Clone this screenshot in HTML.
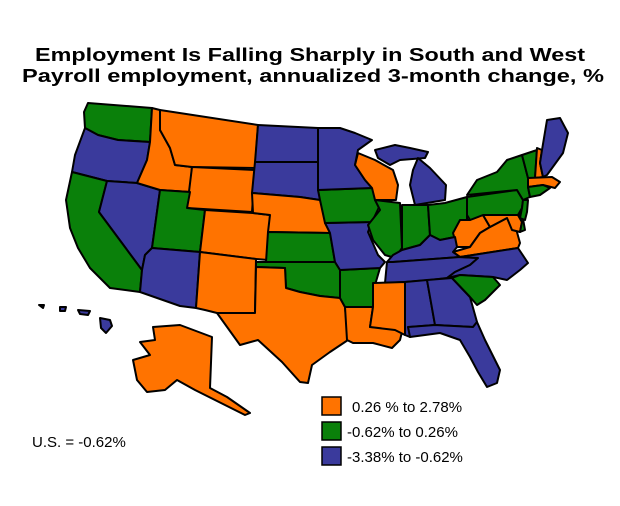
<!DOCTYPE html>
<html><head><meta charset="utf-8"><style>
body{margin:0;background:#fff;}
svg{display:block}
text{font-family:"Liberation Sans",Arial,sans-serif;}
</style></head><body>
<svg width="620" height="506" viewBox="0 0 620 506" xmlns="http://www.w3.org/2000/svg">
<rect width="620" height="506" fill="#fff"/>
<text x="35" y="61" font-size="18" font-weight="bold" textLength="550" lengthAdjust="spacingAndGlyphs">Employment Is Falling Sharply in South and West</text>
<text x="22" y="82" font-size="18" font-weight="bold" textLength="582" lengthAdjust="spacingAndGlyphs">Payroll employment, annualized 3-month change, %</text>
<g stroke="#000" stroke-width="2" stroke-linejoin="round">
<!-- West -->
<polygon fill="#0a800a" points="88,103 152,108 150,142 118,140 98,135 85,128 84,112"/>
<polygon fill="#3a3a9c" points="85,128 98,135 118,140 150,142 147,160 137,183 107,181 72,172 75,155"/>
<polygon fill="#0a800a" points="72,172 107,181 99,212 142,270 140,292 110,288 90,268 78,248 70,228 66,200"/>
<polygon fill="#3a3a9c" points="107,181 137,183 160,190 152,248 145,255 142,270 99,212"/>
<polygon fill="#ff7300" points="152,108 160,110 160,130 170,148 175,165 192,167 190,192 160,190 137,183 147,160 150,142"/>
<polygon fill="#ff7300" points="160,110 258,125 255,168 192,167 175,165 170,148 160,130"/>
<polygon fill="#ff7300" points="192,167 255,170 252,212 187,208"/>
<polygon fill="#0a800a" points="160,190 190,192 187,208 205,210 200,252 152,248"/>
<polygon fill="#ff7300" points="205,210 253,213 270,215 268,260 256,259 200,252"/>
<polygon fill="#3a3a9c" points="152,248 200,252 196,308 180,306 140,292 142,270 145,255"/>
<polygon fill="#ff7300" points="200,252 256,259 255,313 217,313 205,310 196,308"/>
<!-- Plains -->
<polygon fill="#3a3a9c" points="258,125 318,128 318,162 255,162"/>
<polygon fill="#3a3a9c" points="255,162 318,162 320,200 300,197 252,193"/>
<polygon fill="#ff7300" points="252,193 300,197 320,200 328,225 330,233 268,232 270,215 253,213"/>
<polygon fill="#0a800a" points="268,232 330,233 335,262 266,262"/>
<polygon fill="#0a800a" points="256,262 335,262 340,270 340,298 320,296 300,292 286,288 285,268 256,267"/>
<polygon fill="#ff7300" points="256,267 285,268 286,288 300,292 320,296 340,298 345,307 348,340 330,352 312,365 308,383 300,382 282,362 258,340 240,345 217,313 255,313"/>
<polygon fill="#ff7300" points="345,307 373,307 370,327 403,328 400,340 392,348 373,343 353,343 347,340"/>
<polygon fill="#0a800a" points="340,270 380,268 375,285 373,307 345,307 340,298"/>
<polygon fill="#3a3a9c" points="325,223 372,222 368,232 378,255 385,262 380,268 340,270 335,262 330,233"/>
<polygon fill="#0a800a" points="318,190 372,188 380,205 372,222 325,223 320,200"/>
<polygon fill="#3a3a9c" points="318,128 340,128 355,133 372,140 358,150 355,165 365,180 372,188 318,190"/>
<polygon fill="#ff7300" points="358,153 375,160 393,170 398,185 396,200 375,200 372,188 365,180 355,165"/>
<polygon fill="#3a3a9c" points="375,150 395,145 410,148 428,152 425,158 400,160 390,165 378,158"/>
<polygon fill="#3a3a9c" points="418,158 430,168 446,185 445,200 415,205 410,185 413,170"/>
<!-- Midwest / South -->
<polygon fill="#0a800a" points="375,200 400,203 402,248 395,258 385,255 373,240 368,225 380,210"/>
<polygon fill="#0a800a" points="402,205 428,205 430,235 420,245 402,250"/>
<polygon fill="#0a800a" points="428,205 445,203 467,197 467,220 462,235 455,237 440,240 430,235"/>
<polygon fill="#ff7300" points="457,247 453,233 460,220 470,220 483,215 490,227 480,233 470,247"/>
<polygon fill="#ff7300" points="453,252 470,247 480,233 490,227 507,218 515,225 520,243 518,248 460,257"/>
<polygon fill="#3a3a9c" points="387,262 393,255 402,250 420,245 430,235 440,240 455,237 457,247 453,252 460,257 393,262"/>
<polygon fill="#3a3a9c" points="385,283 387,262 393,262 460,257 478,258 470,265 455,272 447,278 430,280 405,282"/>
<polygon fill="#3a3a9c" points="460,257 518,248 528,263 520,270 507,280 493,277 460,275 447,278 455,272 470,265 478,258"/>
<polygon fill="#ff7300" points="373,283 405,282 405,335 395,330 370,327 373,307"/>
<polygon fill="#3a3a9c" points="405,282 427,280 435,325 410,327 410,337 405,335"/>
<polygon fill="#3a3a9c" points="427,280 452,278 470,297 477,322 473,327 435,325"/>
<polygon fill="#0a800a" points="452,278 460,275 493,277 500,285 485,300 477,305 470,297"/>
<polygon fill="#3a3a9c" points="408,327 435,325 473,327 477,322 485,340 500,370 497,383 487,387 478,372 470,357 460,340 440,333 410,337"/>
<!-- Mid-Atlantic / NE -->
<polygon fill="#ff7300" points="483,215 518,215 522,222 520,232 512,230 507,218 490,227"/>
<polygon fill="#0a800a" points="518,215 522,213 525,230 520,232 522,222"/>
<polygon fill="#0a800a" points="467,197 517,190 523,200 522,208 518,215 483,215 470,220 467,215"/>
<polygon fill="#0a800a" points="523,200 528,200 527,212 525,220 520,218 522,208"/>
<polygon fill="#0a800a" points="467,195 477,180 497,172 507,160 522,155 528,178 528,187 530,197 523,200 517,190"/>
<polygon fill="#0a800a" points="522,155 537,150 535,178 528,178"/>
<polygon fill="#ff7300" points="537,148 542,150 540,163 543,177 535,178"/>
<polygon fill="#3a3a9c" points="542,150 547,120 560,118 568,133 563,153 547,175 543,177 540,163"/>
<polygon fill="#ff7300" points="528,178 552,177 560,182 555,188 543,185 528,187"/>
<polygon fill="#0a800a" points="528,187 543,185 550,188 540,195 530,197"/>
<!-- Alaska -->
<polygon fill="#ff7300" points="153,327 180,325 212,337 210,388 227,397 250,413 245,415 215,400 195,390 177,380 165,390 147,392 137,380 133,360 150,355 140,342 155,340"/>
<!-- Hawaii -->
<polygon fill="#3a3a9c" points="100,318 110,320 112,326 106,333 101,328"/>
<polygon fill="#3a3a9c" points="60,307 66,307 65,311 60,311"/>
<polygon fill="#3a3a9c" points="78,310 90,311 88,315 80,314"/>
<polygon fill="#3a3a9c" points="39,305 44,305 43,308"/>
</g>
<text x="32" y="447" font-size="15">U.S. = -0.62%</text>
<g stroke="#000" stroke-width="1.5">
<rect x="322" y="397" width="19" height="18" fill="#ff7300"/>
<rect x="322" y="422" width="19" height="18" fill="#0a800a"/>
<rect x="322" y="447" width="19" height="18" fill="#3a3a9c"/>
</g>
<text x="352" y="412" font-size="15">0.26 % to 2.78%</text>
<text x="347" y="437" font-size="15">-0.62% to 0.26%</text>
<text x="347" y="462" font-size="15">-3.38% to -0.62%</text>
</svg>
</body></html>
